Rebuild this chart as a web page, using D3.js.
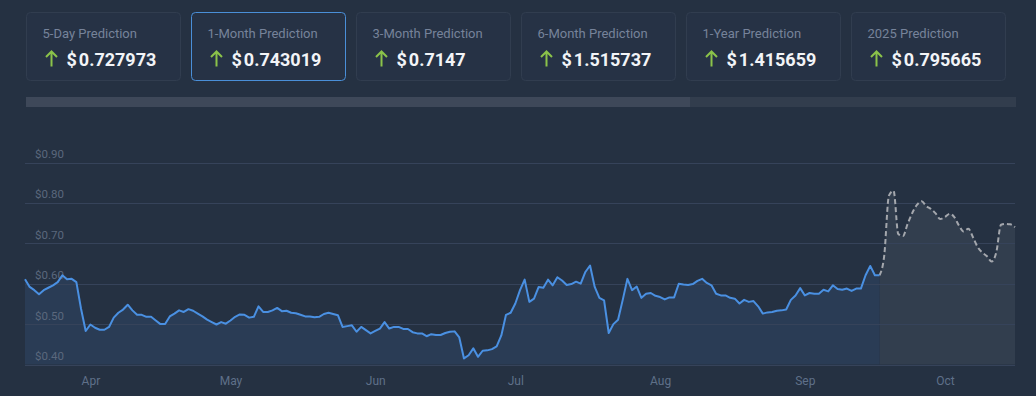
<!DOCTYPE html>
<html>
<head>
<meta charset="utf-8">
<script src="https://cdn.jsdelivr.net/npm/d3@7"></script>
<style>
  html, body { margin: 0; padding: 0; background: #253142; }
  svg { display: block; font-family: Roboto, "Noto Sans", sans-serif; }
  .yaxis .domain, .xaxis .domain, .xaxis .tick line { display: none; }
</style>
</head>
<body>
<svg id="chart"></svg>
<script>
// prediction cards
const cardLabels = ['5-Day Prediction', '1-Month Prediction', '3-Month Prediction',
                    '6-Month Prediction', '1-Year Prediction', '2025 Prediction'];
const cardValues = ['0.727973', '0.743019', '0.7147', '1.515737', '1.415659', '0.795665'];
const selectedCard = 1;

// daily prices, first day 2024-03-18
const startDate = new Date(2024, 2, 18);
const actualValues = [
  0.611, 0.592, 0.584, 0.574, 0.584, 0.590, 0.596, 0.604, 0.621, 0.611, 0.612, 0.604, 0.538, 0.483,
  0.499, 0.491, 0.486, 0.486, 0.493, 0.516, 0.528, 0.536, 0.548, 0.534, 0.523, 0.523, 0.518, 0.518,
  0.509, 0.500, 0.500, 0.519, 0.526, 0.534, 0.530, 0.537, 0.533, 0.526,
  0.519, 0.511, 0.505, 0.499, 0.505, 0.501, 0.509, 0.518, 0.524, 0.523, 0.516, 0.518, 0.544, 0.530,
  0.530, 0.534, 0.540, 0.532, 0.533, 0.528, 0.527, 0.523, 0.519, 0.519, 0.517, 0.518, 0.525, 0.528,
  0.525, 0.522, 0.493, 0.495, 0.497, 0.481, 0.493, 0.485, 0.477, 0.483,
  0.489, 0.505, 0.489, 0.493, 0.493, 0.488, 0.488, 0.480, 0.477, 0.477, 0.470, 0.475, 0.473, 0.473,
  0.478, 0.481, 0.482, 0.467, 0.415, 0.423, 0.440, 0.419, 0.434, 0.435, 0.438, 0.445, 0.472, 0.523,
  0.528, 0.551, 0.584, 0.610, 0.555, 0.563, 0.592, 0.590, 0.610,
  0.596, 0.616, 0.608, 0.597, 0.599, 0.605, 0.600, 0.629, 0.645, 0.592, 0.565, 0.559, 0.478, 0.500,
  0.511, 0.560, 0.612, 0.584, 0.593, 0.565, 0.575, 0.577, 0.570, 0.567, 0.561, 0.566, 0.566, 0.600,
  0.598, 0.597, 0.599, 0.607, 0.612, 0.602, 0.596, 0.575, 0.571, 0.571,
  0.565, 0.563, 0.551, 0.560, 0.555, 0.557, 0.544, 0.526, 0.529, 0.530, 0.533, 0.534, 0.536, 0.560,
  0.571, 0.589, 0.571, 0.577, 0.575, 0.575, 0.585, 0.581, 0.596, 0.587, 0.585, 0.588, 0.582, 0.588,
  0.588, 0.621, 0.644, 0.621, 0.621
];
// forecast starts on the last actual day
const forecastValues = [
  0.621, 0.670, 0.818, 0.830, 0.723, 0.718, 0.748, 0.775, 0.795, 0.804, 0.792, 0.785, 0.774, 0.760,
  0.765, 0.773, 0.765, 0.744, 0.729, 0.736, 0.715, 0.691, 0.677, 0.668, 0.655, 0.678, 0.746, 0.748,
  0.747, 0.740
];
const yTicks = [0.4, 0.5, 0.6, 0.7, 0.8, 0.9];

var config = {
  width: 1036,
  height: 396,
  left: 25,
  right: 1015,
  top: 162.5,
  bottom: 364.5,
  lineColor: '#4a90e2',
  forecastColor: '#a4a7ad'
};

const actual = actualValues.map((v, i) => ({ date: d3.timeDay.offset(startDate, i), value: v }));
const forecastStart = actual.length - 1;
const forecast = forecastValues.map((v, i) => ({ date: d3.timeDay.offset(startDate, forecastStart + i), value: v }));

var svg = d3.select('#chart')
    .attr('width', config.width)
    .attr('height', config.height);

// cards
const card = svg.selectAll('.card')
    .data(cardLabels)
    .enter().append('g')
    .attr('class', 'card')
    .attr('transform', (d, i) => 'translate(' + (26.5 + i * 165) + ',12.5)');

card.append('rect')
  .attr('width', 154)
  .attr('height', 68)
  .attr('rx', 4)
  .attr('fill', '#263245')
  .attr('stroke', (d, i) => i == selectedCard ? '#4a8fd8' : '#313d4f');

card.append('text')
  .attr('x', 16)
  .attr('y', 25)
  .attr('fill', '#76839a')
  .style('font-size', '13px')
  .text(d => d);

// up arrow icon
card.append('path')
  .attr('d', 'M25,39V54M19.5,44.5L25,39L30.5,44.5')
  .attr('fill', 'none')
  .attr('stroke', '#8bc34a')
  .attr('stroke-width', 2);

const valueText = card.append('text')
  .attr('x', 40)
  .attr('y', 53)
  .attr('fill', '#f2f4f7')
  .style('font-size', '18px')
  .style('font-weight', 'bold');
valueText.append('tspan').text('$');
valueText.append('tspan').attr('dx', 2).text((d, i) => cardValues[i]);

// scroll bar
svg.append('rect')
  .attr('x', 26).attr('y', 97).attr('width', 990).attr('height', 10)
  .attr('fill', '#323d4d');
svg.append('rect')
  .attr('x', 26).attr('y', 97).attr('width', 664).attr('height', 10)
  .attr('fill', '#3e4859');

// scales
const x = d3.scaleTime()
    .domain([startDate, forecast[forecast.length - 1].date])
    .range([config.left, config.right]);
const y = d3.scaleLinear()
    .domain([0.4, 0.9])
    .range([config.bottom, config.top]);

// areas
const area = d3.area()
    .x(d => x(d.date))
    .y0(config.bottom)
    .y1(d => y(d.value));

svg.append('path')
  .datum(forecast)
  .attr('d', area.curve(d3.curveMonotoneX))
  .attr('fill', '#323e4e');

svg.append('path')
  .datum(actual)
  .attr('d', area.curve(d3.curveLinear))
  .attr('fill', '#2a3c55');

// grid + y labels, drawn over the areas
const yAxis = svg.append('g')
    .attr('class', 'yaxis')
    .attr('transform', 'translate(' + config.left + ',0)')
    .call(d3.axisRight(y)
          .tickValues(yTicks)
          .tickSize(config.right - config.left)
          .tickFormat(d => '$' + d3.format('.2f')(d)));
yAxis.selectAll('.tick line')
  .attr('stroke', '#36435a')
  .attr('shape-rendering', 'crispEdges');
yAxis.selectAll('.tick text')
  .attr('x', 10)
  .attr('dy', -5)
  .attr('fill', '#5b687d')
  .style('font-size', '11.5px')
  .style('font-family', 'Roboto, sans-serif');

// lines
const line = d3.line()
    .x(d => x(d.date))
    .y(d => y(d.value));

svg.append('path')
  .datum(forecast)
  .attr('d', line.curve(d3.curveMonotoneX))
  .attr('fill', 'none')
  .attr('stroke', config.forecastColor)
  .attr('stroke-width', 2)
  .attr('stroke-dasharray', '5,3');

svg.append('path')
  .datum(actual)
  .attr('d', line.curve(d3.curveLinear))
  .attr('fill', 'none')
  .attr('stroke', config.lineColor)
  .attr('stroke-width', 2)
  .attr('stroke-linejoin', 'round');

// month labels
const xAxis = svg.append('g')
    .attr('class', 'xaxis')
    .attr('transform', 'translate(0,' + config.bottom + ')')
    .call(d3.axisBottom(x)
          .ticks(d3.timeMonth.every(1))
          .tickSize(0)
          .tickFormat(d3.timeFormat('%b')));
xAxis.selectAll('.tick text')
  .attr('dy', 0)
  .attr('y', 20)
  .attr('fill', '#5f7089')
  .style('font-size', '12px')
  .style('font-family', 'Roboto, sans-serif');
</script>
</body>
</html>
